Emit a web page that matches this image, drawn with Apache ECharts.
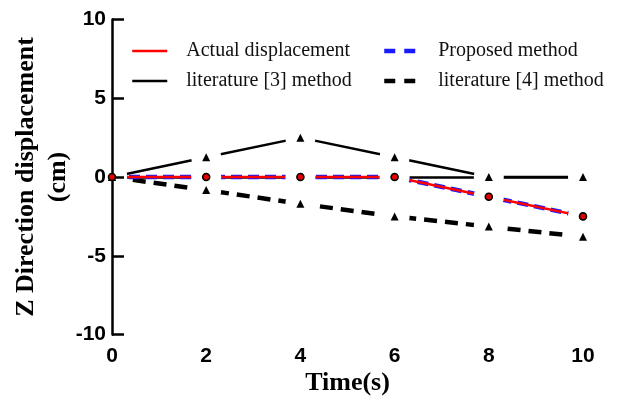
<!DOCTYPE html>
<html>
<head>
<meta charset="utf-8">
<script src="https://cdn.jsdelivr.net/npm/echarts@6/dist/echarts.min.js"></script>
<style>
  html, body { margin: 0; padding: 0; background: #fff; }
  #chart { width: 621px; height: 404px; }
</style>
</head>
<body>
<div id="chart"></div>
<script>
var times = [0, 2, 4, 6, 8, 10];
var actual = [0, 0, 0, 0, -1.25, -2.5];
var proposed = [0, 0, 0, 0, -1.25, -2.5];
var lit3 = [0, 1.25, 2.5, 1.25, 0, 0];
var lit4 = [0, -0.83, -1.7, -2.5, -3.15, -3.8];

function pairs(vals) {
    return times.map(function (t, i) { return [t, vals[i]]; });
}

var chart = echarts.init(document.getElementById('chart'));
var serif = '"Liberation Serif", "Times New Roman", serif';
var sans = '"Liberation Sans", Arial, sans-serif';

// white discs under the markers make the gaps in the lines
function mask(vals) {
    return {
        type: 'scatter', data: pairs(vals), symbol: 'circle', symbolSize: 30,
        itemStyle: { color: '#fff', opacity: 1 }, z: 5, silent: true
    };
}

function legendItem(name, color, width, dash) {
    return {
        name: name,
        itemStyle: { opacity: 0 },
        lineStyle: { color: color, width: width, type: dash }
    };
}

var legendText = { fontFamily: serif, fontSize: 20, color: '#111', padding: [0, 0, 0, 14] };

var option = {
    animation: false,
    legend: [
        {
            data: [
                legendItem('Actual displacement', '#ff0000', 2.5, 'solid'),
                legendItem('literature [3] method', '#000', 2.5, 'solid')
            ],
            orient: 'vertical', left: 126, top: 36, itemGap: 10,
            itemWidth: 35, itemHeight: 22,
            textStyle: legendText
        },
        {
            data: [
                legendItem('Proposed method', '#1a1aff', 4.5, [11, 9]),
                legendItem('literature [4] method', '#000', 4.5, [11, 9])
            ],
            orient: 'vertical', left: 377, top: 36, itemGap: 10,
            itemWidth: 35, itemHeight: 22,
            textStyle: legendText
        }
    ],
    grid: { left: 112, right: 38, top: 19.5, bottom: 69.5, outerBoundsMode: 'none' },
    xAxis: {
        type: 'value', min: 0, max: 10, interval: 2,
        name: 'Time(s)', nameLocation: 'middle', nameGap: 36, nameMoveOverlap: false,
        nameTextStyle: { fontFamily: serif, fontWeight: 'bold', fontSize: 26, color: '#000' },
        axisLine: { lineStyle: { color: '#000', width: 2.5 } },
        axisTick: { inside: true, length: 11, lineStyle: { color: '#000', width: 2.5 } },
        axisLabel: { fontFamily: sans, fontWeight: 'bold', fontSize: 21, color: '#000', margin: 11 },
        splitLine: { show: false }
    },
    yAxis: {
        type: 'value', min: -10, max: 10, interval: 5, z: 10,
        name: 'Z Direction displacement\n(cm)', nameLocation: 'middle', nameGap: 38, nameMoveOverlap: false,
        nameTextStyle: { fontFamily: serif, fontWeight: 'bold', fontSize: 26, color: '#000', lineHeight: 32 },
        axisLine: { lineStyle: { color: '#000', width: 2.5 } },
        axisTick: { inside: true, length: 12, lineStyle: { color: '#000', width: 2.5 } },
        axisLabel: { fontFamily: sans, fontWeight: 'bold', fontSize: 21, color: '#000', margin: 6 },
        splitLine: { show: false }
    },
    series: [
        {
            name: 'literature [3] method', type: 'line', data: pairs(lit3), symbol: 'none',
            lineStyle: { color: '#000', width: 2.5 }, itemStyle: { color: '#000' }, z: 2
        },
        {
            name: 'literature [4] method', type: 'line', data: pairs(lit4), symbol: 'none',
            lineStyle: { color: '#000', width: 4.5, type: [13, 8] }, itemStyle: { color: '#000' }, z: 2
        },
        {
            name: 'Proposed method', type: 'line', data: pairs(proposed), symbol: 'none',
            lineStyle: { color: '#1a1aff', width: 4.5, type: [11, 6] }, itemStyle: { color: '#1a1aff' }, z: 2
        },
        {
            name: 'Actual displacement', type: 'line', data: pairs(actual), symbol: 'none',
            lineStyle: { color: '#ff0000', width: 2.5 }, itemStyle: { color: '#ff0000' }, z: 3
        },
        mask(lit3), mask(lit4), mask(actual),
        {
            type: 'scatter', data: pairs(lit3), symbol: 'triangle', symbolSize: 8,
            itemStyle: { color: '#000', opacity: 1 }, z: 11, silent: true
        },
        {
            type: 'scatter', data: pairs(lit4), symbol: 'triangle', symbolSize: 8,
            itemStyle: { color: '#000', opacity: 1 }, z: 11, silent: true
        },
        {
            type: 'scatter', data: pairs(actual), symbol: 'circle', symbolSize: 7,
            itemStyle: { color: '#e00000', borderColor: '#000', borderWidth: 1.6, opacity: 1 }, z: 12, silent: true
        }
    ]
};
chart.setOption(option);
window.onresize = chart.resize;
</script>
</body>
</html>
